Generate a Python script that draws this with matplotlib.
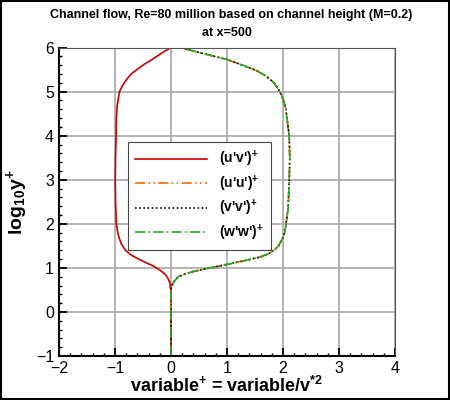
import numpy as np
import matplotlib
matplotlib.use("Agg")
from matplotlib import pyplot as plt
from matplotlib.patches import Rectangle
from matplotlib.ticker import MultipleLocator

plt.rcParams['font.family'] = ['Liberation Sans', 'DejaVu Sans']
plt.rcParams['mathtext.fontset'] = 'custom'
plt.rcParams['mathtext.rm'] = 'Liberation Sans:bold'
plt.rcParams['mathtext.bf'] = 'Liberation Sans:bold'
plt.rcParams['mathtext.it'] = 'Liberation Sans:bold'

# log10(y+) samples
uv_logy = [-1.0, 0.4, 0.5, 0.6, 0.66, 0.75, 0.85, 0.95, 1.04, 1.12, 1.22, 1.3, 1.41,
           1.55, 1.7, 1.79, 2.0, 2.5, 3.0, 3.5, 4.0, 4.4, 4.68, 5.0, 5.15, 5.28,
           5.4, 5.5, 5.62, 5.73, 5.82, 5.88, 5.95, 6.0]
uv_vals = [0.0, 0.0, -0.005, -0.015, -0.02, -0.05, -0.10, -0.2, -0.31, -0.45, -0.61,
           -0.72, -0.82, -0.89, -0.93, -0.95, -0.975, -0.99, -0.995, -0.99, -0.98,
           -0.975, -0.96, -0.92, -0.86, -0.79, -0.71, -0.61, -0.48, -0.34, -0.23,
           -0.16, -0.07, 0.0]

# (u'u')+, (v'v')+, (w'w')+ lie on top of each other in the picture
nn_logy = [-1.0, 0.4, 0.55, 0.61, 0.7, 0.8, 0.86, 0.92, 1.0, 1.08, 1.16, 1.25, 1.32,
           1.4, 1.5, 1.67, 1.8, 1.97, 2.34, 3.0, 3.47, 4.0, 4.3, 4.6, 4.75, 4.9,
           5.05, 5.2, 5.35, 5.47, 5.6, 5.73, 5.85, 5.93, 6.0]
uu_vals = [0.0, 0.0, 0.005, 0.02, 0.06, 0.13, 0.25, 0.4, 0.7, 1.0, 1.3, 1.6, 1.74,
           1.84, 1.92, 1.99, 2.03, 2.05, 2.09, 2.11, 2.12, 2.11, 2.08, 2.05, 2.02,
           1.98, 1.92, 1.84, 1.70, 1.54, 1.28, 1.0, 0.62, 0.38, 0.17]
vv_vals = list(uu_vals)
ww_vals = list(uu_vals)

labels = ["(u'v')$^{+}$", "(u'u')$^{+}$", "(v'v')$^{+}$", "(w'w')$^{+}$"]

fig = plt.figure(figsize=(4.5, 4.0), dpi=100)
ax = fig.add_axes([0.131, 0.11, 0.747, 0.771])

ax.plot(uv_vals, uv_logy, color='#cc0000', lw=1.2, label=labels[0])
ax.plot(uu_vals, nn_logy, color='#ff6a00', lw=1.2, dashes=(6, 2, 1, 2, 1, 2), label=labels[1])
ax.plot(vv_vals, nn_logy, color='black', lw=1.2, dashes=(1, 1.5), label=labels[2])
ax.plot(ww_vals, nn_logy, color='#22aa22', lw=1.2, dashes=(6, 2, 1, 2), label=labels[3])

ax.set_xlim(-2, 4)
ax.set_ylim(-1, 6)
ax.xaxis.set_major_locator(MultipleLocator(1))
ax.xaxis.set_minor_locator(MultipleLocator(0.2))
ax.yaxis.set_major_locator(MultipleLocator(1))
ax.yaxis.set_minor_locator(MultipleLocator(0.2))
ax.grid(True, which='major', color='#a8a8a8', lw=1.2)
ax.set_axisbelow(True)
ax.tick_params(which='both', direction='in', top=False, right=False, labelsize=11.5)
ax.tick_params(which='major', length=6, width=1.3)
ax.tick_params(which='minor', length=2.5, width=1.0)
for s in ['left', 'bottom']:
    ax.spines[s].set_linewidth(1.5)
for s in ['top', 'right']:
    ax.spines[s].set_linewidth(0.8)
    ax.spines[s].set_color('#555555')

ax.set_xlabel("variable$^{+}$ = variable/v$^{*2}$", fontsize=13, fontweight='bold', labelpad=0)
ax.set_ylabel("log$_{10}$y$^{+}$", fontsize=14, fontweight='bold', labelpad=4)

leg = ax.legend(loc='upper left', bbox_to_anchor=(0.205, 0.694), borderaxespad=0,
                fancybox=False, framealpha=1, edgecolor='#444444',
                prop={'weight': 'bold', 'size': 10}, handlelength=5.2,
                handletextpad=0.85, labelspacing=0.3, borderpad=0.5)
leg.get_frame().set_linewidth(0.8)

fig.text(0.513, 0.9625, "Channel flow, Re=80 million based on channel height (M=0.2)",
         ha='center', va='center', fontsize=9, fontweight='bold')
fig.text(0.505, 0.9175, "at x=500", ha='center', va='center', fontsize=9, fontweight='bold')

fig.patches.append(Rectangle((0.002, 0.002), 0.996, 0.996, transform=fig.transFigure,
                             fill=False, edgecolor='black', lw=1.5))

fig.savefig("out.png", dpi=100)
